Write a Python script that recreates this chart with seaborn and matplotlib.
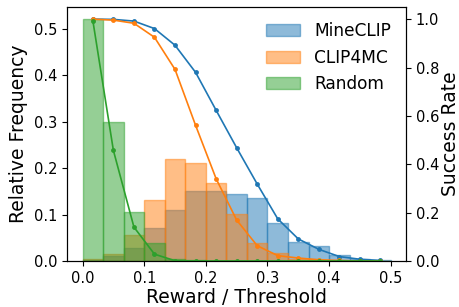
import numpy as np
import pandas as pd
import matplotlib
matplotlib.use("Agg")
import matplotlib.pyplot as plt
import seaborn as sns
from matplotlib.colors import to_rgba

# histogram: 15 bins of width 1/30 between 0 and 0.5
bin_edges = np.linspace(0, 0.5, 16)
bin_centers = (bin_edges[:-1] + bin_edges[1:]) / 2

# relative frequency per bin
mineclip_freq = [0.003, 0.010, 0.028, 0.071, 0.109, 0.150, 0.150, 0.145,
                 0.135, 0.082, 0.041, 0.032, 0.012, 0.005, 0.002]
clip4mc_freq = [0.005, 0.015, 0.056, 0.131, 0.219, 0.210, 0.169, 0.101,
                0.038, 0.017, 0.005, 0.002, 0.0, 0.0, 0.0]
random_freq = [0.521, 0.300, 0.106, 0.039, 0.005, 0.002, 0.0, 0.0,
               0.0, 0.0, 0.0, 0.0, 0.0, 0.0, 0.0]

# success rate at each threshold (bin centres)
mineclip_sr = [1.0, 0.999, 0.992, 0.961, 0.892, 0.780, 0.623, 0.468,
               0.318, 0.174, 0.091, 0.048, 0.018, 0.007, 0.002]
clip4mc_sr = [1.0, 0.996, 0.983, 0.925, 0.792, 0.561, 0.340, 0.169,
              0.063, 0.022, 0.012, 0.005, 0.002, 0.0, 0.0]
random_sr = [0.994, 0.457, 0.140, 0.028, 0.001, 0.0, 0.0, 0.0,
             0.0, 0.0, 0.0, 0.0, 0.0, 0.0, 0.0]

names = ["MineCLIP", "CLIP4MC", "Random"]
colors = ["tab:blue", "tab:orange", "tab:green"]

fig, ax = plt.subplots(figsize=(4.6, 3.07), dpi=100)
fig.subplots_adjust(left=0.146, right=0.883, bottom=0.15, top=0.977)

for name, freq, c in zip(names, [mineclip_freq, clip4mc_freq, random_freq], colors):
    df = pd.DataFrame({"x": bin_centers, "w": freq})
    sns.histplot(data=df, x="x", weights="w", bins=list(bin_edges), ax=ax,
                 color=c, alpha=0.5, edgecolor=to_rgba(c, 0.5), linewidth=1,
                 label=name)

ax.set_xlim(-0.025, 0.525)
ax.set_ylim(0, None)
ax.set_xticks([0.0, 0.1, 0.2, 0.3, 0.4, 0.5])
ax.set_xlabel("Reward / Threshold", fontsize=13.5, labelpad=2)
ax.set_ylabel("Relative Frequency", fontsize=13.5)
ax.tick_params(labelsize=10.5)
ax.legend(loc="upper right", frameon=False, fontsize=12.25)

ax2 = ax.twinx()
for sr, c in zip([mineclip_sr, clip4mc_sr, random_sr], colors):
    sns.lineplot(x=bin_centers, y=sr, ax=ax2, color=c, marker="o",
                 markersize=3.5, markeredgewidth=0, linewidth=1.2)
ax2.set_ylim(0, 1.05)
ax2.set_ylabel("Success Rate", fontsize=13.5, labelpad=1)
ax2.tick_params(labelsize=10.5)

fig.savefig("out.png", dpi=100)
